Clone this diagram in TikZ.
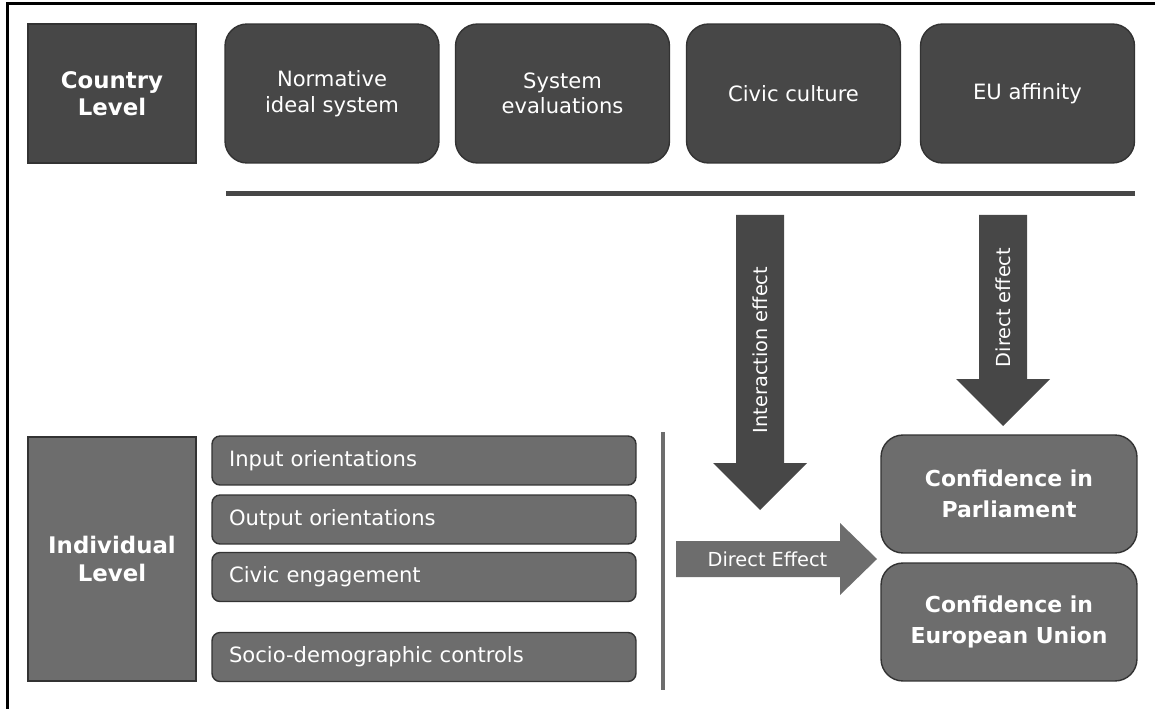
\documentclass[tikz,border=0pt]{standalone}
\usepackage{fontspec}
\setmainfont{DejaVu Sans}
\usetikzlibrary{positioning}

\definecolor{darkbox}{HTML}{474747}
\definecolor{midbox}{HTML}{6D6D6D}
\definecolor{boxline}{HTML}{333333}

\begin{document}
\begin{tikzpicture}[x=0.02cm, y=-0.02cm,
  level/.style={draw=boxline, line width=0.8pt, text=white, align=center,
                font=\fontsize{13}{15.5}\selectfont\bfseries,
                minimum width=3.36cm, inner sep=0pt},
  topbox/.style={draw=boxline, line width=0.8pt, fill=darkbox, rounded corners=0.44cm,
                 text=white, align=center, font=\fontsize{12}{14.5}\selectfont,
                 minimum width=4.28cm, minimum height=2.78cm},
  item/.style={draw=boxline, line width=0.8pt, fill=midbox, rounded corners=0.16cm,
               text=white, font=\fontsize{12}{14}\selectfont,
               text width=7.8cm, align=left, inner xsep=0.34cm, minimum height=0.98cm},
  outcome/.style={draw=boxline, line width=0.8pt, fill=midbox, rounded corners=0.44cm,
                  text=white, align=center, font=\fontsize{12.5}{17.5}\selectfont\bfseries,
                  minimum width=5.12cm, minimum height=2.36cm},
  effect/.style={text=white, font=\fontsize{11}{13}\selectfont, inner sep=0pt}
]
  \useasboundingbox (0,0) rectangle (1155,709);
  \draw[line width=0.06cm] (7.5,709) -- (7.5,3.8) -- (1155,3.8);

  % country level
  \node[level, fill=darkbox, minimum height=2.78cm] (country) at (112,93.5) {Country\\Level};
  \node[topbox] (ideal) at (332,93.5) {Normative\\ideal system};
  \node[topbox] (eval) at (562.5,93.5) {System\\evaluations};
  \node[topbox] (civic) at (793.5,93.5) {Civic culture};
  \node[topbox] (eu) at (1027.5,93.5) {EU affinity};
  \draw[darkbox, line width=0.1cm] (226,194) -- (1135,194);

  % individual level
  \node[level, fill=midbox, minimum height=4.88cm] (indiv) at (112,559) {Individual\\Level};
  \node[item] (input) at (424,460.5) {Input orientations};
  \node[item] (output) at (424,519.5) {Output orientations};
  \node[item] (engage) at (424,577) {Civic engagement};
  \node[item] (socio) at (424,657) {Socio-demographic controls};
  \draw[midbox, line width=0.08cm] (663,432) -- (663,690);

  % dependent variables
  \node[outcome] (parl) at (1009,494) {Confidence in\\Parliament};
  \node[outcome] (union) at (1009,622) {Confidence in\\European Union};

  % effects
  \fill[darkbox] (736,215) -- (784,215) -- (784,463) -- (807,463) -- (760,510)
    -- (713,463) -- (736,463) -- cycle;
  \node[effect, rotate=90] (inter) at (760,350) {Interaction effect};
  \fill[darkbox] (979,215) -- (1027,215) -- (1027,379) -- (1050,379) -- (1003,426)
    -- (956,379) -- (979,379) -- cycle;
  \node[effect, rotate=90] (direct) at (1003,307.5) {Direct effect};
  \fill[midbox] (676,541) -- (840,541) -- (840,523) -- (877,559) -- (840,595)
    -- (840,577) -- (676,577) -- cycle;
  \node[effect] (direct2) at (767.5,559) {Direct Effect};
\end{tikzpicture}
\end{document}
